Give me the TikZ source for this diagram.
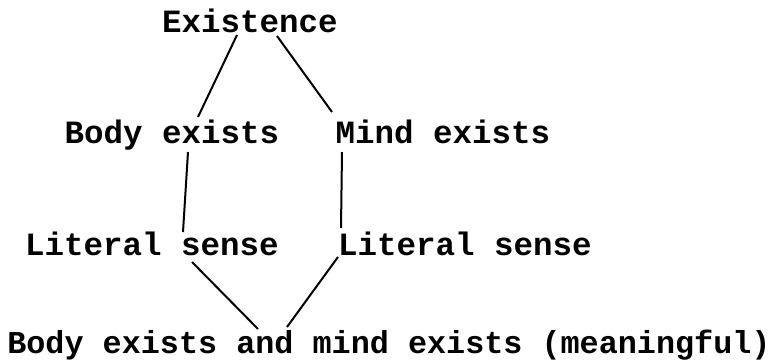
\documentclass[tikz,border=0pt]{standalone}
\usepackage{fontspec}
\setmonofont{Liberation Mono}
\usetikzlibrary{calc}
\begin{document}
\begin{tikzpicture}[x=1pt,y=-1pt,
  lbl/.style={anchor=base,inner sep=0pt,font=\ttfamily\bfseries\fontsize{32.5}{36}\selectfont},
  lblwide/.style={lbl,font=\ttfamily\bfseries\fontsize{31.8}{36}\selectfont},
  link/.style={line width=2pt}]
\useasboundingbox (0,0) rectangle (777,362);
\node[lbl] (ex) at (250,32) {Existence};
\node[lbl] (be) at (172,143) {Body exists};
\node[lbl] (me) at (443,143) {Mind exists};
\node[lbl] (ll) at (152,255) {Literal sense};
\node[lbl] (lr) at (465,255) {Literal sense};
\node[lblwide] (bt) at (389,353) {Body exists and mind exists (meaningful)};
\draw[link] ($(ex.base)+(-13,3)$) -- ($(be.base)+(26,-26)$);
\draw[link] ($(ex.base)+(27,4)$) -- ($(me.base)+(-111,-31)$);
\draw[link] ($(be.base)+(16,9)$) -- ($(ll.base)+(31,-23)$);
\draw[link] ($(me.base)+(-101,9)$) -- ($(lr.base)+(-124,-27)$);
\draw[link] ($(ll.base)+(40,7)$) -- ($(bt.base)+(-131,-24)$);
\draw[link] ($(lr.base)+(-127,2)$) -- ($(bt.base)+(-102,-26)$);
\end{tikzpicture}
\end{document}
